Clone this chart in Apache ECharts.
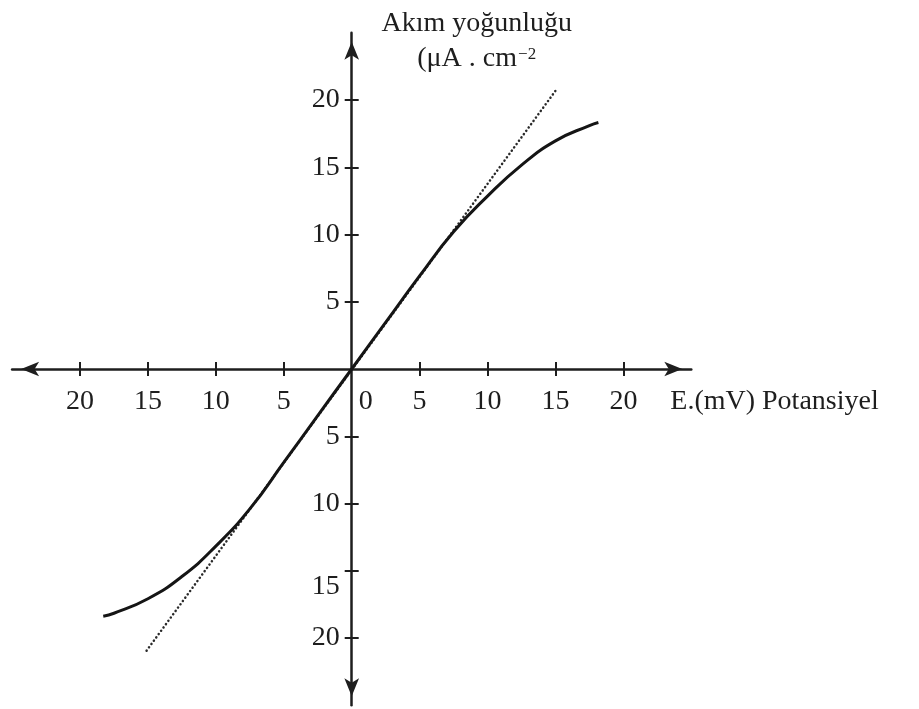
<!DOCTYPE html>
<html>
<head>
<meta charset="utf-8">
<script src="https://cdn.jsdelivr.net/npm/echarts@6/dist/echarts.min.js"></script>
<style>
html,body{margin:0;padding:0;background:#fff;}
#chart{width:919px;height:709px;}
</style>
</head>
<body>
<div id="chart"></div>
<script>
// ---- data ----
const xTickValues = [-20, -15, -10, -5, 5, 10, 15, 20];
const yTickValues = [-20, -15, -10, -5, 5, 10, 15, 20];
const curveX = [-18.29, -17.5, -15, -12.5, -10, -7.5, -5, -2.5, 0, 2.5, 5, 7.5, 10, 12.5, 15, 17.5, 18.16];
const curveY = [-18.38, -18.16, -17.08, -15.43, -13.17, -10.4, -6.95, -3.46, 0, 3.46, 6.92, 10.2, 12.85, 15.16, 16.96, 18.1, 18.33];
const tangentX = [-15.1, 15.1];
const tangentY = [-20.94, 20.82];
const xName = 'E.(mV) Potansiyel';
const yNameLine1 = 'Akım yoğunluğu';
const yNameLine2 = '(μA . cm';
const yNameSup = '−2';

const FONT = '"Liberation Serif", "Times New Roman", serif';
const INK = '#1e1e1e';
const FS = 28;

const curveData = curveX.map((x, i) => [x, curveY[i]]);
const tangentData = tangentX.map((x, i) => [x, tangentY[i]]);

const chart = echarts.init(document.getElementById('chart'), null, {renderer: 'canvas'});

const axisLineStyle = {color: INK, width: 2.5};
const tickStyle = {color: INK, width: 2};
const hiddenAxis = {show: false};

const option = {
  animation: false,
  backgroundColor: '#ffffff',
  grid: [
    // main plotting grid
    {left: 12.1, top: 32.75, width: 679.2, height: 672.5, outerBoundsMode: 'none'},
    // upper half: carries the x tick labels along its bottom edge (= y 0)
    {left: 12.1, top: 32.75, width: 679.2, height: 336.25, outerBoundsMode: 'none'},
    // right half: carries the y tick labels along its left edge (= x 0)
    {left: 351.7, top: 32.75, width: 339.6, height: 672.5, outerBoundsMode: 'none'}
  ],
  xAxis: [
    {
      gridIndex: 0, type: 'value', min: -25, max: 25, interval: 5, position: 'bottom',
      axisLine: {onZero: true, lineStyle: axisLineStyle, symbol: ['arrow', 'arrow'], symbolSize: [11, 18], symbolOffset: [9, -9]},
      axisTick: {show: true, inside: false, length: 7, lineStyle: tickStyle, customValues: xTickValues},
      axisLabel: {show: false},
      splitLine: {show: false},
      name: xName, nameLocation: 'end', nameGap: -21, nameMoveOverlap: false,
      nameTextStyle: {fontFamily: FONT, fontSize: FS, color: INK, align: 'left', verticalAlign: 'top', lineHeight: 66}
    },
    {
      gridIndex: 0, type: 'value', min: -25, max: 25, interval: 5, position: 'top',
      axisLine: {show: false, onZero: true},
      axisTick: {show: true, inside: false, length: 7, lineStyle: tickStyle, customValues: xTickValues},
      axisLabel: {show: false},
      splitLine: {show: false}
    },
    {
      gridIndex: 1, type: 'value', min: -25, max: 25, interval: 5, position: 'bottom',
      axisLine: {show: false, onZero: false},
      axisTick: {show: false},
      splitLine: {show: false},
      axisLabel: {
        show: true, margin: 19, hideOverlap: false,
        fontFamily: FONT, fontSize: FS, color: INK,
        formatter: v => Math.abs(v) === 25 ? '' : (v === 0 ? '{z|0}' : String(Math.abs(v))),
        rich: {z: {fontFamily: FONT, fontSize: FS, color: INK, padding: [0, 0, 0, 28]}}
      }
    },
    Object.assign({gridIndex: 2, type: 'value', min: 0, max: 25}, hiddenAxis)
  ],
  yAxis: [
    {
      gridIndex: 0, type: 'value', min: -25, max: 25, interval: 5, position: 'left',
      axisLine: {onZero: true, lineStyle: axisLineStyle, symbol: ['arrow', 'arrow'], symbolSize: [11, 18], symbolOffset: [9, -9]},
      axisTick: {show: true, inside: false, length: 7, lineStyle: tickStyle, customValues: yTickValues},
      axisLabel: {show: false},
      splitLine: {show: false},
      name: '{a|' + yNameLine1 + '}\n{a|' + yNameLine2 + '}{s|' + yNameSup + '}',
      nameLocation: 'end', nameGap: 26.75, nameMoveOverlap: false,
      nameTextStyle: {
        align: 'center', verticalAlign: 'top', padding: [0, 0, 0, 250],
        rich: {
          a: {fontFamily: FONT, fontSize: FS, lineHeight: 35, color: INK, align: 'center'},
          s: {fontFamily: FONT, fontSize: 17, lineHeight: 35, color: INK, align: 'center', verticalAlign: 'middle', padding: [0, 0, 8, 1]}
        }
      }
    },
    {
      gridIndex: 0, type: 'value', min: -25, max: 25, interval: 5, position: 'right',
      axisLine: {show: false, onZero: true},
      axisTick: {show: true, inside: false, length: 7, lineStyle: tickStyle, customValues: yTickValues},
      axisLabel: {show: false},
      splitLine: {show: false}
    },
    Object.assign({gridIndex: 1, type: 'value', min: 0, max: 25}, hiddenAxis),
    {
      gridIndex: 2, type: 'value', min: -25, max: 25, interval: 5, position: 'left',
      axisLine: {show: false, onZero: false},
      axisTick: {show: false},
      splitLine: {show: false},
      axisLabel: {
        show: true, margin: 12, hideOverlap: false,
        fontFamily: FONT, fontSize: FS, color: INK,
        formatter: v => (Math.abs(v) === 25 || v === 0) ? '' : (v === -15 ? '{d|15}' : String(Math.abs(v))),
        rich: {d: {fontFamily: FONT, fontSize: FS, color: INK, padding: [32, 0, 0, 0]}}
      }
    }
  ],
  series: [
    {
      type: 'line', xAxisIndex: 0, yAxisIndex: 0, data: tangentData,
      showSymbol: false, symbol: 'none', silent: true, z: 2,
      lineStyle: {color: '#2a2a2a', width: 2.5, type: [0.1, 4], cap: 'round'}
    },
    {
      type: 'line', xAxisIndex: 0, yAxisIndex: 0, data: curveData,
      showSymbol: false, symbol: 'none', silent: true, z: 3,
      smooth: 0.5,
      lineStyle: {color: '#151515', width: 3}
    }
  ]
};
chart.setOption(option);
</script>
</body>
</html>
